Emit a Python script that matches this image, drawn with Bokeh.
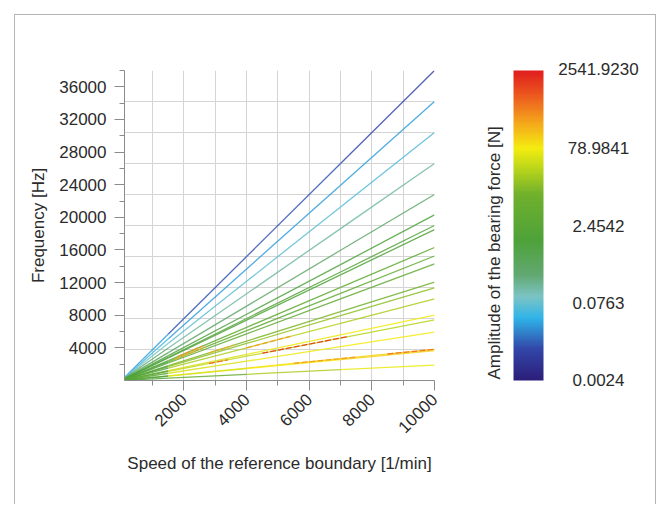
import numpy as np
from math import pi, log10
from bokeh.plotting import figure
from bokeh.layouts import row
from bokeh.models import (ColumnDataSource, LogColorMapper, ColorBar, FixedTicker, Range1d,
                          Label, Title)
from bokeh.transform import transform
from bokeh.embed import file_html
from bokeh.resources import INLINE

# ---------------- data ----------------
# frequency each order line reaches at 10000 1/min [Hz]
freq_at_10000 = [38000, 34200, 30400, 26600, 22800, 20300, 19000, 18500, 16300, 15260,
                 14300, 12070, 11340, 10015, 8000, 7440, 5920, 3820, 3650, 1890]
# speed bands [1/min]
band_edges = [100, 1500, 4000, 7000, 10000]
# amplitude of the bearing force [N] per line in each speed band
amp_band1 = [0.03, 0.05, 0.1, 0.3, 0.5, 1.0, 1.0, 1.0, 1.5, 1.5,
             1.5, 2.0, 2.0, 2.0, 3.0, 3.0, 3.0, 2.0, 2.0, 1.5]
amp_band2 = [0.012, 0.03, 0.07, 0.15, 0.35, 1.0, 1.8, 1.5, 4.0, 5.0,
             4.0, 12.0, 15.0, 25.0, 50.0, 35.0, 50.0, 60.0, 50.0, 5.0]
amp_band3 = [0.012, 0.03, 0.07, 0.15, 0.35, 1.0, 1.8, 1.5, 3.5, 4.0,
             4.0, 12.0, 18.0, 30.0, 70.0, 35.0, 70.0, 100.0, 80.0, 25.0]
amp_band4 = [0.01, 0.03, 0.06, 0.15, 0.35, 1.2, 1.8, 1.5, 3.5, 4.0,
             4.0, 10.0, 15.0, 25.0, 80.0, 30.0, 80.0, 120.0, 120.0, 70.0]
# local maxima (hot spots) along some lines
hot_line = [16300, 15260, 12070, 10015, 7440, 7440, 3820, 3820]
hot_from = [1800, 1700, 2800, 4000, 2800, 4500, 5500, 8500]
hot_to = [2600, 2700, 3600, 5400, 3400, 7200, 7500, 10000]
hot_amp = [300, 200, 200, 300, 600, 1500, 300, 600]

cbar_ticks = [0.0024, 0.0763, 2.4542, 78.9841, 2541.9230]
x_ticks = [2000, 4000, 6000, 8000, 10000]
x_minor = [1000, 3000, 5000, 7000, 9000]
y_ticks = [4000, 8000, 12000, 16000, 20000, 24000, 28000, 32000, 36000]
y_minor = [2000, 6000, 10000, 14000, 18000, 22000, 26000, 30000, 34000, 38000]
x_grid = [1000, 2000, 3000, 4000, 5000, 6000, 7000, 8000, 9000, 10000]
y_grid = [3800, 7600, 11400, 15200, 19000, 22800, 26600, 30400, 34200, 38000]

# ---------------- palette (rainbow like the reference) ----------------
ctrl = [(0.00, "#2c1e7a"), (0.10, "#3246a8"), (0.20, "#2fb4e8"), (0.27, "#7cc4c4"),
        (0.34, "#62a872"), (0.45, "#4ea23a"), (0.60, "#70b02c"), (0.70, "#c8dc18"),
        (0.75, "#f4ec10"), (0.84, "#f4a01c"), (0.92, "#ec5a1e"), (1.00, "#e01e1e")]
pos = np.array([c[0] for c in ctrl])
rgb = np.array([[int(c[1][i:i + 2], 16) for i in (1, 3, 5)] for c in ctrl], dtype=float)
tt = np.linspace(0, 1, 256)
palette = ["#%02x%02x%02x" % tuple(int(round(np.interp(t, pos, rgb[:, k]))) for k in range(3))
           for t in tt]

mapper = LogColorMapper(palette=palette, low=cbar_ticks[0], high=cbar_ticks[-1])

# ---------------- segments ----------------
x0, y0, x1, y1, amp = [], [], [], [], []
bands = [amp_band1, amp_band2, amp_band3, amp_band4]
for i, f in enumerate(freq_at_10000):
    for b in range(4):
        s0, s1 = band_edges[b], band_edges[b + 1]
        x0.append(s0); x1.append(s1)
        y0.append(f * s0 / 10000.0); y1.append(f * s1 / 10000.0)
        amp.append(bands[b][i])
seg = ColumnDataSource(dict(x0=x0, y0=y0, x1=x1, y1=y1, amp=amp))
hot = ColumnDataSource(dict(
    x0=hot_from, x1=hot_to,
    y0=[f * s / 10000.0 for f, s in zip(hot_line, hot_from)],
    y1=[f * s / 10000.0 for f, s in zip(hot_line, hot_to)],
    amp=hot_amp))

# ---------------- layout constants (page pixels) ----------------
FONT = "Liberation Sans"
TXT = "#2b2b2b"
BORDER = "1px solid #b4b4b4"
OX, OY = 15, 15                       # page offset of figure content
SPLIT, RIGHT, BOTTOM = 480, 657, 505  # split between the two panels
FL, FR, FT, FB = 124, 434, 70, 380    # frame edges
H = BOTTOM - OY
XR = (100, 10000)
YR = (0, 38000)

# ---------------- main chart ----------------
p = figure(width=SPLIT - OX, height=H, output_backend="svg", toolbar_location=None,
           x_range=Range1d(*XR), y_range=Range1d(*YR),
           min_border_left=FL - OX, min_border_right=SPLIT - FR,
           min_border_top=FT - OY, min_border_bottom=BOTTOM - FB)
p.margin = (14, 0, 0, 14)
p.styles = {"border-left": BORDER, "border-top": BORDER}
p.outline_line_color = None
p.border_fill_color = "white"

p.segment("x0", "y0", "x1", "y1", source=seg, line_width=1.3, line_alpha=0.85,
          line_color=transform("amp", mapper))
p.segment("x0", "y0", "x1", "y1", source=hot, line_width=1.3, line_alpha=0.9,
          line_color=transform("amp", mapper), line_dash="6 2")

p.xgrid.ticker = FixedTicker(ticks=x_grid)
p.ygrid.ticker = FixedTicker(ticks=y_grid)
for g in (p.xgrid, p.ygrid):
    g.grid_line_color = "#d4d4d4"
    g.grid_line_width = 1

p.xaxis.ticker = FixedTicker(ticks=x_ticks, minor_ticks=x_minor)
p.yaxis.ticker = FixedTicker(ticks=y_ticks, minor_ticks=y_minor)
p.xaxis.major_label_orientation = pi / 4
p.xaxis.axis_label = "Speed of the reference boundary [1/min]"
p.yaxis.axis_label = "Frequency [Hz]"
for ax in (p.xaxis, p.yaxis):
    ax.axis_line_color = "#8c8c8c"
    ax.major_tick_line_color = "#8c8c8c"
    ax.minor_tick_line_color = "#8c8c8c"
    ax.major_tick_in = 0
    ax.minor_tick_in = 0
    ax.major_tick_out = 10
    ax.minor_tick_out = 5
    ax.major_label_text_font = FONT
    ax.major_label_text_font_size = "17px"
    ax.major_label_text_color = TXT
    ax.axis_label_text_font = FONT
    ax.axis_label_text_font_size = "17px"
    ax.axis_label_text_font_style = "normal"
    ax.axis_label_text_color = TXT
p.xaxis.major_label_standoff = 6
p.yaxis.major_label_standoff = 8
p.xaxis.axis_label_standoff = 13
p.yaxis.axis_label_standoff = 8

# ---------------- colour bar panel (frame aligned with the main frame) ----------------
def qy(sy):  # page y -> panel data y
    return BOTTOM - sy


q = figure(width=RIGHT - SPLIT, height=H, output_backend="svg", toolbar_location=None,
           x_range=Range1d(SPLIT, RIGHT), y_range=Range1d(qy(FB), qy(FT)),
           x_axis_location=None, y_axis_location=None,
           min_border_left=0, min_border_right=0,
           min_border_top=FT - OY, min_border_bottom=BOTTOM - FB)
q.margin = (14, 0, 0, 0)
q.styles = {"border-top": BORDER, "border-right": BORDER}
q.grid.visible = False
q.outline_line_color = None
q.border_fill_color = "white"

BAR_L, BAR_W = 514, 30
cb = ColorBar(color_mapper=mapper, location=(BAR_L - SPLIT, 0), width=BAR_W,
              height=FB - FT, padding=0, margin=0, ticker=FixedTicker(ticks=[]),
              major_label_text_font_size="0px", major_tick_line_color=None,
              minor_tick_line_color=None, bar_line_color=None,
              background_fill_alpha=0, border_line_color=None)
q.add_layout(cb, "center")

LAB_CX = 599                      # centre of the colour-bar labels
CHAR_W = {".": 0.278}             # Liberation Sans advance widths (em)


def text_w(s, size=17):
    return sum(CHAR_W.get(c, 0.556) for c in s) * size


lo, hi = log10(cbar_ticks[0]), log10(cbar_ticks[-1])
labels = ["%.4f" % t for t in cbar_ticks]
for t, s in zip(cbar_ticks[1:-1], labels[1:-1]):
    ly = qy(FB) + (log10(t) - lo) / (hi - lo) * (FB - FT)
    q.add_layout(Label(x=LAB_CX, y=ly, text=s, text_align="center",
                       text_baseline="middle", text_font=FONT, text_font_size="17px",
                       text_color=TXT))
# end labels sit on the frame edges: place them in the side panels
q.add_layout(Title(text=labels[-1], align="left", offset=LAB_CX - SPLIT - text_w(labels[-1]) / 2,
                   vertical_align="bottom", standoff=-8, text_font=FONT,
                   text_font_size="17px", text_font_style="normal", text_color=TXT), "above")
q.add_layout(Title(text=labels[0], align="left", offset=LAB_CX - SPLIT - text_w(labels[0]) / 2,
                   vertical_align="top", standoff=-14, text_font=FONT,
                   text_font_size="17px", text_font_style="normal", text_color=TXT), "below")
q.add_layout(Label(x=495, y=qy(250), text="Amplitude of the bearing force  [N]",
                   angle=pi / 2, text_align="center", text_baseline="middle",
                   text_font=FONT, text_font_size="17px", text_color=TXT))

layout = row(p, q)
open("out.html", "w").write(file_html(layout, INLINE))
